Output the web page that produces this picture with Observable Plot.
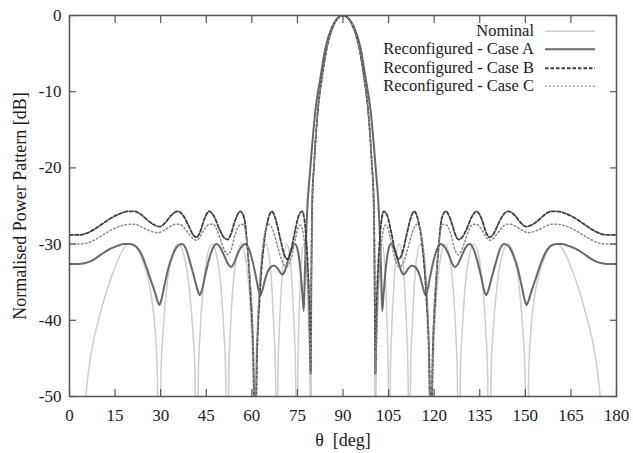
<!DOCTYPE html>
<html>
<head>
<meta charset="utf-8">
<script src="https://cdn.jsdelivr.net/npm/d3@7"></script>
<script src="https://cdn.jsdelivr.net/npm/@observablehq/plot@0.6"></script>
<style>
  body { margin: 0; background: #fff; }
  #wrap { position: relative; width: 633px; height: 453px; }
  #legend { position: absolute; left: 313px; top: 21.5px; font-family: "Liberation Serif", "DejaVu Serif", "Noto Serif", "Times New Roman", serif; font-size: 16.5px; color: #1a1a1a; }
  .row { display: flex; align-items: center; height: 18.5px; }
  .row span { display: inline-block; width: 221px; text-align: right; white-space: nowrap; }
  .row svg { margin-left: 11px; }
  svg text { font-family: "Liberation Serif", "DejaVu Serif", "Noto Serif", "Times New Roman", serif; }
</style>
</head>
<body>
<div id="wrap"><div id="legend"></div></div>
<script>
// Angle axis ticks (deg) and power ticks (dB)
const xTicks = [0, 15, 30, 45, 60, 75, 90, 105, 120, 135, 150, 165, 180];
const yTicks = [0, -10, -20, -30, -40, -50];

const seriesNames = ["Nominal", "Reconfigured - Case A", "Reconfigured - Case B", "Reconfigured - Case C"];

// [theta (deg), normalised power (dB)]
const nominal = [
  [4.6,-56],[5.4,-50],[6.5,-46],[8,-42.5],[10,-39.3],[12.5,-35.8],[15,-33],[17.5,-30.8],[19.5,-30],[21.5,-30.3],[23.5,-31.6],[25.5,-34],[27,-37],[28.2,-41.5],[28.9,-47],[29.5,-75],
  [30.1,-47],[30.8,-41.5],[31.8,-36.5],[33.3,-32.3],[35.7,-30],[38.1,-32.3],[39.6,-36.5],[40.6,-41.5],[41.3,-47],[41.9,-75],
  [42.4,-47],[43.0,-41.5],[43.8,-36.5],[45.0,-32.3],[46.9,-30],[48.8,-32.3],[50.0,-36.5],[50.8,-41.5],[51.4,-47],[51.9,-75],
  [52.4,-47],[52.9,-41.5],[53.6,-36.5],[54.7,-32.3],[56.4,-30],[58.1,-32.3],[59.2,-36.5],[59.9,-41.5],[60.4,-47],[60.9,-75],
  [61.3,-47],[61.8,-41.5],[62.4,-36.5],[63.2,-32.3],[64.55,-30],[65.9,-32.3],[66.7,-36.5],[67.3,-41.5],[67.8,-47],[68.2,-75],
  [68.6,-47],[69.0,-41.5],[69.6,-36.5],[70.3,-32.3],[71.5,-30],[72.7,-32.3],[73.4,-36.5],[74.0,-41.5],[74.4,-47],[74.8,-75],
  [75.1,-47],[75.4,-41.5],[75.8,-36.5],[76.3,-32.3],[77.1,-30],[77.9,-32.3],[78.4,-36.5],[78.8,-41.5],[79.1,-47],[79.4,-75],
  [79.6,-40],[79.9,-26],[80.5,-19.5],[81.5,-13.5],[83.2,-7.8],[84.8,-4.0],[86.8,-1.4],[88.3,-0.35],[90,0],
  [91.7,-0.35],[93.2,-1.4],[95.2,-4.0],[96.8,-7.8],[98.5,-13.5],[99.5,-19.5],[100.1,-26],[100.4,-40],[100.6,-75],
  [100.9,-47],[101.2,-41.5],[101.6,-36.5],[102.1,-32.3],[102.9,-30],[103.7,-32.3],[104.2,-36.5],[104.6,-41.5],[104.9,-47],[105.2,-75],
  [105.6,-47],[106.0,-41.5],[106.6,-36.5],[107.3,-32.3],[108.5,-30],[109.7,-32.3],[110.4,-36.5],[111.0,-41.5],[111.4,-47],[111.8,-75],
  [112.2,-47],[112.7,-41.5],[113.3,-36.5],[114.1,-32.3],[115.45,-30],[116.8,-32.3],[117.6,-36.5],[118.2,-41.5],[118.7,-47],[119.1,-75],
  [119.6,-47],[120.1,-41.5],[120.8,-36.5],[121.9,-32.3],[123.6,-30],[125.3,-32.3],[126.4,-36.5],[127.1,-41.5],[127.6,-47],[128.1,-75],
  [128.6,-47],[129.2,-41.5],[130.0,-36.5],[131.2,-32.3],[133.1,-30],[135.0,-32.3],[136.2,-36.5],[137.0,-41.5],[137.6,-47],[138.1,-75],
  [138.7,-47],[139.4,-41.5],[140.4,-36.5],[141.9,-32.3],[144.3,-30],[146.7,-32.3],[148.2,-36.5],[149.2,-41.5],[149.9,-47],[150.5,-75],
  [151.1,-47],[151.8,-41.5],[153.0,-37],[154.5,-34],[156.5,-31.6],[158.5,-30.3],[160.5,-30],[162.5,-30.8],[165,-33],[167.5,-35.8],[170,-39.3],[172,-42.5],[173.5,-46],[174.6,-50],[175.4,-56]
];

const caseA = [
  [0,-32.6],[3,-32.6],[6,-32.4],[8.5,-31.9],[11,-31.2],[13.5,-30.6],[16,-30.2],[18,-30.0],[19.8,-30],[21.5,-30.2],[23.5,-31.2],[25.3,-33.0],[26.8,-34.8],[28.1,-36.3],[29.0,-37.5],[29.6,-38.0],
  [30.3,-37.2],[31.2,-35.5],[32.5,-33.2],[34.1,-31.3],[35.5,-30.3],[36.9,-30],[38.3,-30.6],[39.6,-32.3],[41,-34.3],[42.2,-36.1],[42.9,-36.7],
  [43.6,-36.0],[44.6,-34.2],[45.8,-32.2],[47.1,-30.6],[48.4,-30],[49.7,-30.5],[51.0,-31.6],[52.3,-32.7],[53.1,-33.0],
  [54,-32.6],[55.2,-31.4],[56.5,-30.4],[57.8,-30],[59,-30.6],[60.2,-32.2],[61.5,-34.6],[62.3,-36.2],[62.8,-36.7],
  [63.5,-36.0],[64.6,-34.3],[66,-33.1],[67.3,-32.8],[68.5,-33.2],[69.5,-33.8],[70.1,-34.0],
  [70.8,-33.6],[71.8,-32.3],[73,-30.7],[74.2,-30],[75.2,-31],[76.0,-33.5],[76.7,-36.8],[77.1,-38.8],
  [77.5,-33],[78.0,-27.5],[78.4,-24.3],[79.0,-21.2],[79.9,-16.8],[80.9,-12.5],[82.6,-8.1],[84.2,-4.3],[86.4,-1.5],[88.2,-0.35],[90,0],
  [91.8,-0.35],[93.6,-1.5],[95.8,-4.3],[97.4,-8.1],[99.1,-12.5],[100.1,-16.8],[101.0,-21.2],[101.6,-24.3],[102.0,-27.5],[102.5,-33],[102.9,-38.8],
  [103.3,-36.8],[104.0,-33.5],[104.8,-31],[105.8,-30],[107,-30.7],[108.2,-32.3],[109.2,-33.6],[109.9,-34.0],
  [110.5,-33.8],[111.5,-33.2],[112.7,-32.8],[114,-33.1],[115.4,-34.3],[116.5,-36.0],[117.2,-36.7],
  [117.7,-36.2],[118.5,-34.6],[119.8,-32.2],[121,-30.6],[122.2,-30],[123.5,-30.4],[124.8,-31.4],[126,-32.6],[126.9,-33.0],
  [127.7,-32.7],[129,-31.6],[130.3,-30.5],[131.6,-30],[132.9,-30.6],[134.2,-32.2],[135.4,-34.2],[136.4,-36.0],[137.1,-36.7],
  [137.8,-36.1],[139,-34.3],[140.4,-32.3],[141.7,-30.6],[143.1,-30],[144.5,-30.3],[145.9,-31.3],[147.5,-33.2],[148.8,-35.5],[149.7,-37.2],[150.4,-38.0],
  [151,-37.5],[151.9,-36.3],[153.2,-34.8],[154.7,-33.0],[156.5,-31.2],[158.5,-30.2],[160.2,-30],[162,-30.0],[164,-30.2],[166.5,-30.6],[169,-31.2],[171.5,-31.9],[174,-32.4],[177,-32.6],[180,-32.6]
];

const caseB = [
  [0,-28.8],[3,-28.8],[5.5,-28.6],[8,-28.1],[11,-27.3],[14,-26.5],[17,-25.95],[19.5,-25.7],[21.3,-25.7],[23.5,-26.1],[25.5,-26.8],[27.5,-27.4],[29.7,-27.7],
  [31.5,-27.2],[33.3,-26.3],[35.6,-25.7],[37.5,-26.3],[39.2,-27.6],[40.7,-28.8],[41.8,-29.1],
  [42.9,-28.5],[44.3,-26.8],[46.0,-25.7],[47.6,-26.4],[49.4,-28.1],[51.0,-29.2],[52.0,-29.4],
  [53.0,-28.8],[54.5,-26.9],[56.2,-25.7],[57.6,-26.8],[58.5,-30.2],[59.6,-36.7],[60.4,-43.3],[61.1,-55],
  [61.8,-43.3],[62.6,-36.7],[63.9,-30.2],[65.2,-27],[66.6,-25.7],[67.8,-26.7],[69.3,-29.2],[70.6,-31.3],[71.7,-32],
  [72.8,-31],[74.2,-28.3],[75.5,-26.2],[76.6,-25.7],[77.5,-27.5],[78.3,-32],[78.9,-38],[79.35,-47],
  [79.6,-33],[79.9,-24],[80.5,-19.5],[81.5,-13.5],[83.2,-7.8],[84.8,-4.0],[86.8,-1.4],[88.3,-0.35],[90,0],
  [91.7,-0.35],[93.2,-1.4],[95.2,-4.0],[96.8,-7.8],[98.5,-13.5],[99.5,-19.5],[100.1,-24],[100.4,-33],[100.65,-47],
  [101.1,-38],[101.7,-32],[102.5,-27.5],[103.4,-25.7],[104.5,-26.2],[105.8,-28.3],[107.2,-31],[108.3,-32],
  [109.4,-31.3],[110.7,-29.2],[112.2,-26.7],[113.4,-25.7],[114.8,-27],[116.1,-30.2],[117.4,-36.7],[118.2,-43.3],[118.9,-55],
  [119.6,-43.3],[120.4,-36.7],[121.5,-30.2],[122.4,-26.8],[123.8,-25.7],[125.5,-26.9],[127.0,-28.8],[128.0,-29.4],
  [129.0,-29.2],[130.6,-28.1],[132.4,-26.4],[134.0,-25.7],[135.7,-26.8],[137.1,-28.5],[138.2,-29.1],
  [139.3,-28.8],[140.8,-27.6],[142.5,-26.3],[144.4,-25.7],[146.7,-26.3],[148.5,-27.2],[150.3,-27.7],
  [152.5,-27.4],[154.5,-26.8],[156.5,-26.1],[158.7,-25.7],[160.5,-25.7],[163,-25.95],[166,-26.5],[169,-27.3],[172,-28.1],[174.5,-28.6],[177,-28.8],[180,-28.8]
];

const caseC = [
  [0,-30.0],[3,-30.0],[5.5,-29.9],[8,-29.5],[11,-28.8],[14,-28.1],[17,-27.6],[19.5,-27.4],[21.5,-27.4],[23.5,-27.7],[25.5,-28.1],[27.5,-28.4],[29.2,-28.5],
  [31,-28.2],[33,-27.7],[34.8,-27.4],[36.3,-27.4],[37.8,-27.9],[39.4,-28.7],[40.7,-29.3],[41.8,-29.5],
  [43,-29],[44.5,-28],[46,-27.4],[47.3,-27.4],[48.6,-28.2],[50,-29.8],[51.2,-31.0],[52.2,-31.4],
  [53.2,-30.7],[54.6,-28.6],[56,-27.5],[57.2,-27.4],[58.3,-29.5],[59.3,-34],[60.2,-40],[61.1,-55],
  [61.9,-41],[62.7,-34.5],[63.8,-29.8],[64.7,-27.8],[65.6,-27.4],[66.8,-28],[68.4,-30.2],[70,-32.3],[71.5,-33],
  [73,-31.8],[74.4,-29.2],[75.3,-27.8],[76.0,-27.5],[76.8,-28.3],[77.8,-32],[78.7,-38.5],[79.35,-47],
  [79.6,-33],[79.9,-24],[80.5,-19.5],[81.5,-13.5],[83.2,-7.8],[84.8,-4.0],[86.8,-1.4],[88.3,-0.35],[90,0],
  [91.7,-0.35],[93.2,-1.4],[95.2,-4.0],[96.8,-7.8],[98.5,-13.5],[99.5,-19.5],[100.1,-24],[100.4,-33],[100.65,-47],
  [101.3,-38.5],[102.2,-32],[103.2,-28.3],[104.0,-27.5],[104.7,-27.8],[105.6,-29.2],[107,-31.8],[108.5,-33],
  [110,-32.3],[111.6,-30.2],[113.2,-28],[114.4,-27.4],[115.3,-27.8],[116.2,-29.8],[117.3,-34.5],[118.1,-41],[118.9,-55],
  [119.8,-40],[120.7,-34],[121.7,-29.5],[122.8,-27.4],[124,-27.5],[125.4,-28.6],[126.8,-30.7],[127.8,-31.4],
  [128.8,-31.0],[130,-29.8],[131.4,-28.2],[132.7,-27.4],[134,-27.4],[135.5,-28],[137,-29],[138.2,-29.5],
  [139.3,-29.3],[140.6,-28.7],[142.2,-27.9],[143.7,-27.4],[145.2,-27.4],[147,-27.7],[149,-28.2],[150.8,-28.5],
  [152.5,-28.4],[154.5,-28.1],[156.5,-27.7],[158.5,-27.4],[160.5,-27.4],[163,-27.6],[166,-28.1],[169,-28.8],[172,-29.5],[174.5,-29.9],[177,-30.0],[180,-30.0]
];

// Line styles per series, in legend order
const styles = [
  {stroke: "#cdcdcd", strokeWidth: 1.5, strokeDasharray: null},
  {stroke: "#686868", strokeWidth: 2, strokeDasharray: null},
  {stroke: "#3c3c3c", strokeWidth: 1.8, strokeDasharray: "3.5,2"},
  {stroke: "#8a8a8a", strokeWidth: 1.5, strokeDasharray: "1.5,2.5"}
];
const seriesData = [nominal, caseA, caseB, caseC];

const serif = "\"Liberation Serif\", \"DejaVu Serif\", \"Noto Serif\", \"Times New Roman\", serif";
const axisGray = "#555";

const lineMarks = seriesData.map((data, i) => Plot.line(data, {
  x: d => d[0], y: d => d[1],
  curve: "monotone-x", clip: true,
  stroke: styles[i].stroke, strokeWidth: styles[i].strokeWidth,
  strokeDasharray: styles[i].strokeDasharray || undefined
}));

const chart = Plot.plot({
  width: 633, height: 453,
  marginLeft: 69, marginRight: 17, marginTop: 15, marginBottom: 57,
  style: {fontFamily: serif, fontSize: "17px", color: "#1a1a1a", background: "#fff", overflow: "visible"},
  x: {domain: [0, 180]},
  y: {domain: [-50, 0]},
  marks: [
    ...lineMarks,
    Plot.frame({stroke: axisGray, strokeWidth: 1.5}),
    // inward ticks on all four sides
    Plot.axisX(xTicks, {anchor: "bottom", tickSize: -7, tickFormat: () => "", stroke: axisGray, strokeWidth: 1.2, label: null}),
    Plot.axisX(xTicks, {anchor: "top", tickSize: -7, tickFormat: () => "", stroke: axisGray, strokeWidth: 1.2, label: null}),
    Plot.axisY(yTicks, {anchor: "left", tickSize: -7, tickFormat: () => "", stroke: axisGray, strokeWidth: 1.2, label: null}),
    Plot.axisY(yTicks, {anchor: "right", tickSize: -7, tickFormat: () => "", stroke: axisGray, strokeWidth: 1.2, label: null}),
    // tick labels
    Plot.axisX(xTicks, {anchor: "bottom", tickSize: 0, tickPadding: 12, tickFormat: d => String(d), fontSize: 17, fill: "#1a1a1a", label: null}),
    Plot.axisY(yTicks, {anchor: "left", tickSize: 0, tickPadding: 8, tickFormat: d => String(d), fontSize: 17, fill: "#1a1a1a", label: null}),
    // axis titles
    Plot.text(["Normalised Power Pattern [dB]"], {frameAnchor: "left", dx: -49, rotate: -90, text: d => d, textAnchor: "middle", lineAnchor: "middle", fontSize: 18, fill: "#1a1a1a"}),
    Plot.text(["θ\u00a0\u00a0[deg]"], {frameAnchor: "bottom", dy: 44, text: d => d, textAnchor: "middle", lineAnchor: "middle", fontSize: 18, fill: "#1a1a1a"})
  ]
});
document.getElementById("wrap").prepend(chart);

// Legend in the upper right of the plot area
const legend = document.getElementById("legend");
seriesNames.forEach((name, i) => {
  const row = document.createElement("div");
  row.className = "row";
  const label = document.createElement("span");
  label.textContent = name;
  row.appendChild(label);
  const ns = "http://www.w3.org/2000/svg";
  const svg = document.createElementNS(ns, "svg");
  svg.setAttribute("width", "50");
  svg.setAttribute("height", "18.5");
  const ln = document.createElementNS(ns, "line");
  ln.setAttribute("x1", "0"); ln.setAttribute("x2", "50");
  ln.setAttribute("y1", "9.25"); ln.setAttribute("y2", "9.25");
  ln.setAttribute("stroke", styles[i].stroke);
  ln.setAttribute("stroke-width", styles[i].strokeWidth);
  if (styles[i].strokeDasharray) ln.setAttribute("stroke-dasharray", styles[i].strokeDasharray);
  svg.appendChild(ln);
  row.appendChild(svg);
  legend.appendChild(row);
});
</script>
</body>
</html>
